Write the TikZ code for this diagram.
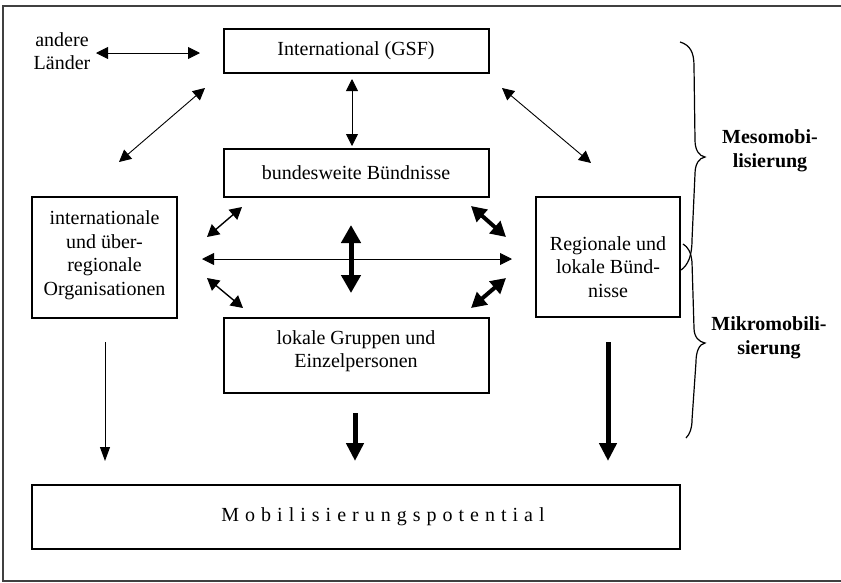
\documentclass[tikz,border=0pt]{standalone}
\usepackage{fontspec}
\setmainfont{Liberation Serif}
\usetikzlibrary{arrows.meta}
\begin{document}
\begin{tikzpicture}[x=1pt,y=-1pt,
  box/.style={draw, line width=1.3pt, inner sep=0pt},
  txt/.style={font=\fontsize{20}{23.5}\selectfont, align=center, inner sep=0pt},
  boldtxt/.style={font=\fontsize{20}{24}\selectfont\bfseries, align=center, inner sep=0pt},
  thinarrow/.style={line width=0.9pt, {Triangle[length=12pt,width=12pt]}-{Triangle[length=12pt,width=12pt]}},
  midarrow/.style={line width=1.4pt, {Triangle[length=12pt,width=13pt]}-{Triangle[length=12pt,width=13pt]}},
  fatarrow/.style={line width=4pt, {Triangle[length=15pt,width=16pt]}-{Triangle[length=15pt,width=16pt]}},
  vfatarrow/.style={line width=5pt, {Triangle[length=18pt,width=19pt]}-{Triangle[length=18pt,width=19pt]}},
  downthin/.style={line width=1pt, -{Triangle[length=14pt,width=10pt]}},
  downfat/.style={line width=5pt, -{Triangle[length=18pt,width=17pt]}},
  bracestyle/.style={line width=1.2pt}
]
\useasboundingbox (0,0) rectangle (841,582);
% frame
\draw[line width=1.2pt, black!75] (845,6) -- (3,6) -- (3,581) -- (845,581);

% boxes
\node[box, minimum width=265pt, minimum height=44pt] (intl) at (356.5,51) {};
\node[box, minimum width=265pt, minimum height=48pt] (bund) at (356.5,173) {};
\node[box, minimum width=145pt, minimum height=121pt] (iorg) at (104.5,257.5) {};
\node[box, minimum width=144pt, minimum height=120pt] (regio) at (608,257) {};
\node[box, minimum width=265pt, minimum height=75pt] (lok) at (356.5,355.5) {};
\node[box, minimum width=648pt, minimum height=64pt] (mob) at (356,517) {};

% texts
\node[txt] (tintl) at (356,51) {International (GSF)};
\node[txt] (tbund) at (356,173) {bundesweite Bündnisse};
\node[txt] (tiorg) at (104.5,255) {internationale\\und über-\\regionale\\Organisationen};
\node[txt] (tregio) at (608,267) {Regionale und\\lokale Bünd-\\nisse};
\node[txt] (tlok) at (356,351) {lokale Gruppen und\\Einzelpersonen};
\node[txt] (tmob) at (383,517) {\addfontfeature{LetterSpace=30}Mobilisierungspotential};
\node[txt] (andere) at (62,51) {andere\\Länder};
\node[boldtxt] (meso) at (770,151) {Mesomobi-\\lisierung};
\node[boldtxt] (mikro) at (769,338) {Mikromobili-\\sierung};

% arrow end points
\coordinate (a1) at (96,53);   \coordinate (a2) at (200,53);
\coordinate (b1) at (352,79);  \coordinate (b2) at (352,146);
\coordinate (c1) at (205,88);  \coordinate (c2) at (119,162);
\coordinate (d1) at (502,88);  \coordinate (d2) at (591,163);
\coordinate (e1) at (242,207); \coordinate (e2) at (207,237);
\coordinate (f1) at (207,278); \coordinate (f2) at (243,308);
\coordinate (g1) at (202,259); \coordinate (g2) at (512,259);
\coordinate (h1) at (351,225); \coordinate (h2) at (351,293);
\coordinate (i1) at (471,206); \coordinate (i2) at (506,237);
\coordinate (j1) at (506,278); \coordinate (j2) at (471,308);
\coordinate (k1) at (105,342); \coordinate (k2) at (105,461);
\coordinate (l1) at (355,413); \coordinate (l2) at (355,461);
\coordinate (m1) at (608,342); \coordinate (m2) at (608,461);

\draw[thinarrow] (a1) -- (a2);
\draw[thinarrow] (b1) -- (b2);
\draw[thinarrow] (c1) -- (c2);
\draw[thinarrow] (d1) -- (d2);
\draw[midarrow] (e1) -- (e2);
\draw[midarrow] (f1) -- (f2);
\draw[thinarrow] (g1) -- (g2);
\draw[vfatarrow] (h1) -- (h2);
\draw[fatarrow] (i1) -- (i2);
\draw[fatarrow] (j1) -- (j2);
\draw[downthin] (k1) -- (k2);
\draw[downfat] (l1) -- (l2);
\draw[downfat] (m1) -- (m2);

% braces
\draw[bracestyle] (680,42) .. controls (690,45) and (694,52) .. (694,66)
  -- (695,140) .. controls (695,150) and (699,156) .. (705,157)
  .. controls (699,158) and (695,164) .. (695,174)
  -- (692,240) .. controls (692,256) and (688,265) .. (681,270);
\draw[bracestyle] (683,244) .. controls (688,247) and (691,252) .. (692,262)
  -- (694,328) .. controls (694,337) and (699,342) .. (705,343)
  .. controls (699,344) and (696,352) .. (696,362)
  -- (692,420) .. controls (692,428) and (690,434) .. (686,438);
\end{tikzpicture}
\end{document}
